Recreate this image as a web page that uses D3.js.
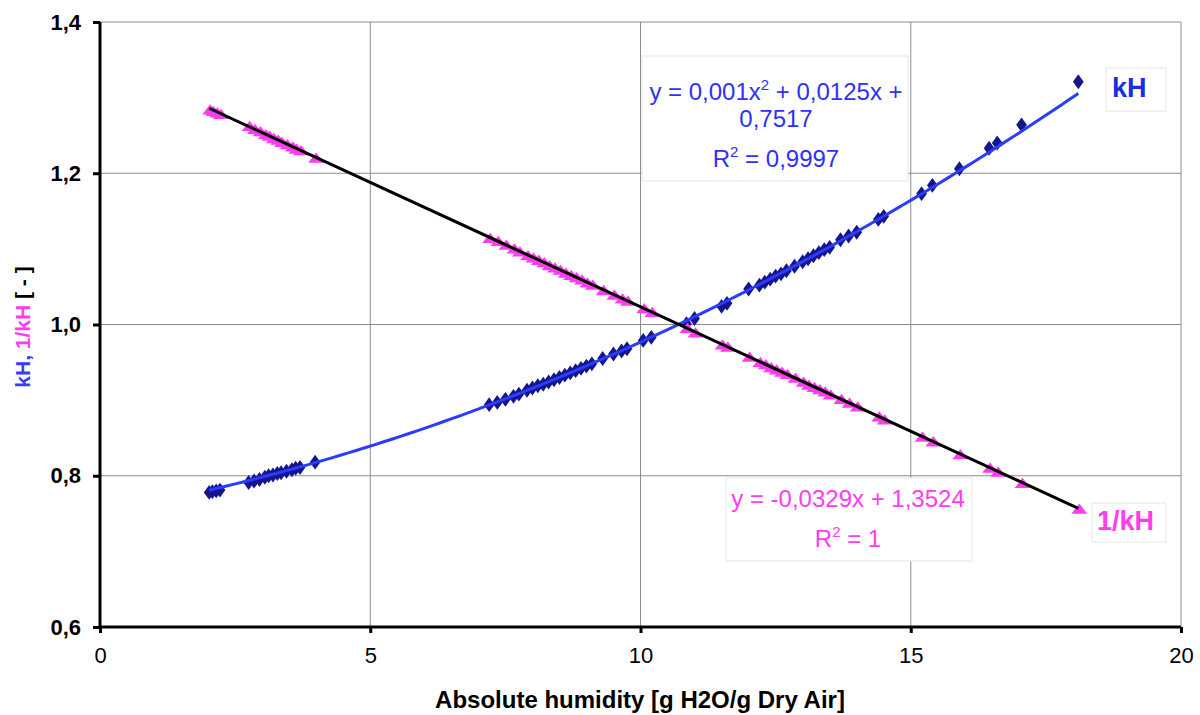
<!DOCTYPE html>
<html><head><meta charset="utf-8">
<script src="https://cdn.jsdelivr.net/npm/d3@7"></script>
<style>body{margin:0;background:#fff;} svg{display:block;font-family:Arial,"Liberation Sans",sans-serif;}</style>
</head><body>
<svg id="c" width="1200" height="715"></svg>
<script>
const humidity = [2.02,2.08,2.15,2.22,2.75,2.85,2.95,3.05,3.12,3.2,3.28,3.35,3.45,3.55,3.62,3.7,3.98,
 7.2,7.35,7.5,7.65,7.75,7.9,8.0,8.1,8.2,8.3,8.4,8.5,8.6,8.7,8.8,8.9,9.0,9.1,9.3,9.5,9.65,9.75,10.05,10.2,
 10.85,11.0,11.5,11.6,12.0,12.2,12.3,12.4,12.5,12.6,12.7,12.85,13.0,13.1,13.2,13.3,13.4,13.5,13.7,13.85,14.0,14.4,14.5,15.2,15.4,15.9,16.45,16.6,17.05,18.1];
const kH = [0.778,0.779,0.780,0.781,0.791,0.793,0.795,0.798,0.800,0.801,0.803,0.804,0.806,0.808,0.810,0.811,0.818,
 0.894,0.897,0.901,0.905,0.908,0.913,0.916,0.919,0.921,0.924,0.927,0.930,0.933,0.936,0.939,0.942,0.945,0.948,0.955,0.961,0.965,0.968,0.979,0.983,
 1.001,1.008,1.024,1.028,1.047,1.052,1.056,1.060,1.064,1.067,1.071,1.077,1.083,1.087,1.091,1.095,1.099,1.102,1.112,1.117,1.122,1.139,1.143,1.173,1.184,1.206,1.233,1.240,1.264,1.321];
const invKH = [1.285,1.283,1.281,1.279,1.263,1.259,1.256,1.252,1.250,1.247,1.245,1.242,1.239,1.236,1.233,1.231,1.221,
 1.115,1.111,1.106,1.101,1.097,1.092,1.089,1.086,1.083,1.079,1.076,1.073,1.069,1.066,1.063,1.060,1.056,1.053,1.046,1.040,1.035,1.032,1.022,1.017,
 0.996,0.990,0.974,0.971,0.958,0.951,0.948,0.944,0.941,0.938,0.935,0.930,0.925,0.921,0.918,0.915,0.912,0.908,0.902,0.897,0.892,0.879,0.875,0.852,0.846,0.829,0.811,0.806,0.791,0.757];
// trendline coefficients (from the chart's equations)
const kHFit = [0.001, 0.0125, 0.7517];     // a x^2 + b x + c
const invFit = [-0.0329, 1.3524];           // m x + q
const xTicks = [0,5,10,15,20];
const yTicks = [0.6,0.8,1.0,1.2,1.4];

const svg = d3.select("#c");
const L=100,R=1181,T=22,B=627;
const x = d3.scaleLinear().domain([0,20]).range([L,R]);
const y = d3.scaleLinear().domain([0.6,1.4]).range([B,T]);
const fmt = d => d3.format(".1f")(d).replace(".",",");

// gridlines
svg.append("g").selectAll("line").data(yTicks.slice(1)).join("line")
 .attr("x1",L).attr("x2",R).attr("y1",d=>y(d)).attr("y2",d=>y(d)).attr("stroke","#8c8c8c").attr("stroke-width",1);
svg.append("g").selectAll("line").data(xTicks.slice(1)).join("line")
 .attr("y1",T).attr("y2",B).attr("x1",d=>x(d)).attr("x2",d=>x(d)).attr("stroke","#8c8c8c").attr("stroke-width",1);

// axes
const xa = svg.append("g").attr("transform",`translate(0,${B})`)
 .call(d3.axisBottom(x).tickValues(xTicks).tickSize(6).tickPadding(14).tickFormat(d3.format("d")));
xa.select(".domain").attr("stroke","#000").attr("stroke-width",3).attr("d",`M${L-1},0H${R}`);
xa.selectAll(".tick line").attr("stroke","#000").attr("stroke-width",3);
xa.selectAll(".tick text").attr("font-size",22).attr("font-family","Arial,'Liberation Sans',sans-serif").attr("fill","#000");

const ya = svg.append("g").attr("transform",`translate(${L},0)`)
 .call(d3.axisLeft(y).tickValues(yTicks).tickSize(7).tickPadding(12).tickFormat(fmt));
ya.select(".domain").attr("stroke","#000").attr("stroke-width",3).attr("d",`M0,${B+1}V${T}`);
ya.selectAll(".tick line").attr("stroke","#000").attr("stroke-width",3);
ya.selectAll(".tick text").attr("font-size",22).attr("font-weight","bold").attr("font-family","Arial,'Liberation Sans',sans-serif").attr("fill","#000");

// markers
const diamond = d3.symbol().type(d3.symbolDiamond).size(64);
const tri = d3.symbol().type(d3.symbolTriangle).size(75);
svg.append("g").selectAll("path").data(humidity).join("path")
 .attr("d",diamond).attr("transform",(d,i)=>`translate(${x(d)},${y(kH[i])}) scale(1.25,1)`).attr("fill","#16168c");
svg.append("g").selectAll("path").data(humidity).join("path")
 .attr("d",tri).attr("transform",(d,i)=>`translate(${x(d)+1},${y(invKH[i])+2}) scale(1.2,0.9)`).attr("fill","#ff3cf0");

// trendlines
const x0 = d3.min(humidity), x1 = d3.max(humidity);
const xs = d3.range(0,101).map(i=>x0+(x1-x0)*i/100);
svg.append("path").datum(xs).attr("fill","none").attr("stroke","#2a3cff").attr("stroke-width",3)
 .attr("d",d3.line().x(d=>x(d)).y(d=>y(kHFit[0]*d*d+kHFit[1]*d+kHFit[2])));
svg.append("path").datum([x0,x1]).attr("fill","none").attr("stroke","#000").attr("stroke-width",3)
 .attr("d",d3.line().x(d=>x(d)).y(d=>y(invFit[0]*d+invFit[1])));

// equation boxes
const blue="#2f2fff", mag="#ff3cf0";
function box(x0,y0,w,h){svg.append("rect").attr("x",x0).attr("y",y0).attr("width",w).attr("height",h).attr("fill","#fff").attr("stroke","#e6e6e6").attr("stroke-width",1);}
box(642,56,266,125);
const eq1 = svg.append("g").attr("font-size",24).attr("fill",blue).attr("text-anchor","middle");
const t1 = eq1.append("text").attr("x",776).attr("y",100);
t1.append("tspan").text("y = 0,001x");
t1.append("tspan").text("2").attr("font-size",15).attr("dy",-10);
t1.append("tspan").text(" + 0,0125x +").attr("dy",10);
eq1.append("text").attr("x",776).attr("y",127).text("0,7517");
const t3 = eq1.append("text").attr("x",776).attr("y",167);
t3.append("tspan").text("R");
t3.append("tspan").text("2").attr("font-size",15).attr("dy",-10);
t3.append("tspan").text(" = 0,9997").attr("dy",10);

box(726,478,246,83);
const eq2 = svg.append("g").attr("font-size",24).attr("fill",mag).attr("text-anchor","middle");
eq2.append("text").attr("x",848).attr("y",507).text("y = -0,0329x + 1,3524");
const t4 = eq2.append("text").attr("x",848).attr("y",547);
t4.append("tspan").text("R");
t4.append("tspan").text("2").attr("font-size",15).attr("dy",-10);
t4.append("tspan").text(" = 1").attr("dy",10);

// series labels
box(1106,68,60,43);
svg.append("text").attr("x",1112).attr("y",97).attr("font-size",27).attr("font-weight","bold").attr("fill","#1a2ee6").text("kH");
box(1092,503,74,39);
svg.append("text").attr("x",1097).attr("y",530).attr("font-size",27).attr("font-weight","bold").attr("fill",mag).text("1/kH");

// axis titles
svg.append("text").attr("x",640).attr("y",708).attr("text-anchor","middle").attr("font-size",24).attr("font-weight","bold").text("Absolute humidity [g H2O/g Dry Air]");
const yt = svg.append("text").attr("transform","translate(30,327) rotate(-90)").attr("text-anchor","middle").attr("font-size",21).attr("font-weight","bold");
yt.append("tspan").text("kH, ").attr("fill","#3a3aff");
yt.append("tspan").text("1/kH").attr("fill",mag);
yt.append("tspan").text(" [ - ]").attr("fill","#000");
</script>
</body></html>
